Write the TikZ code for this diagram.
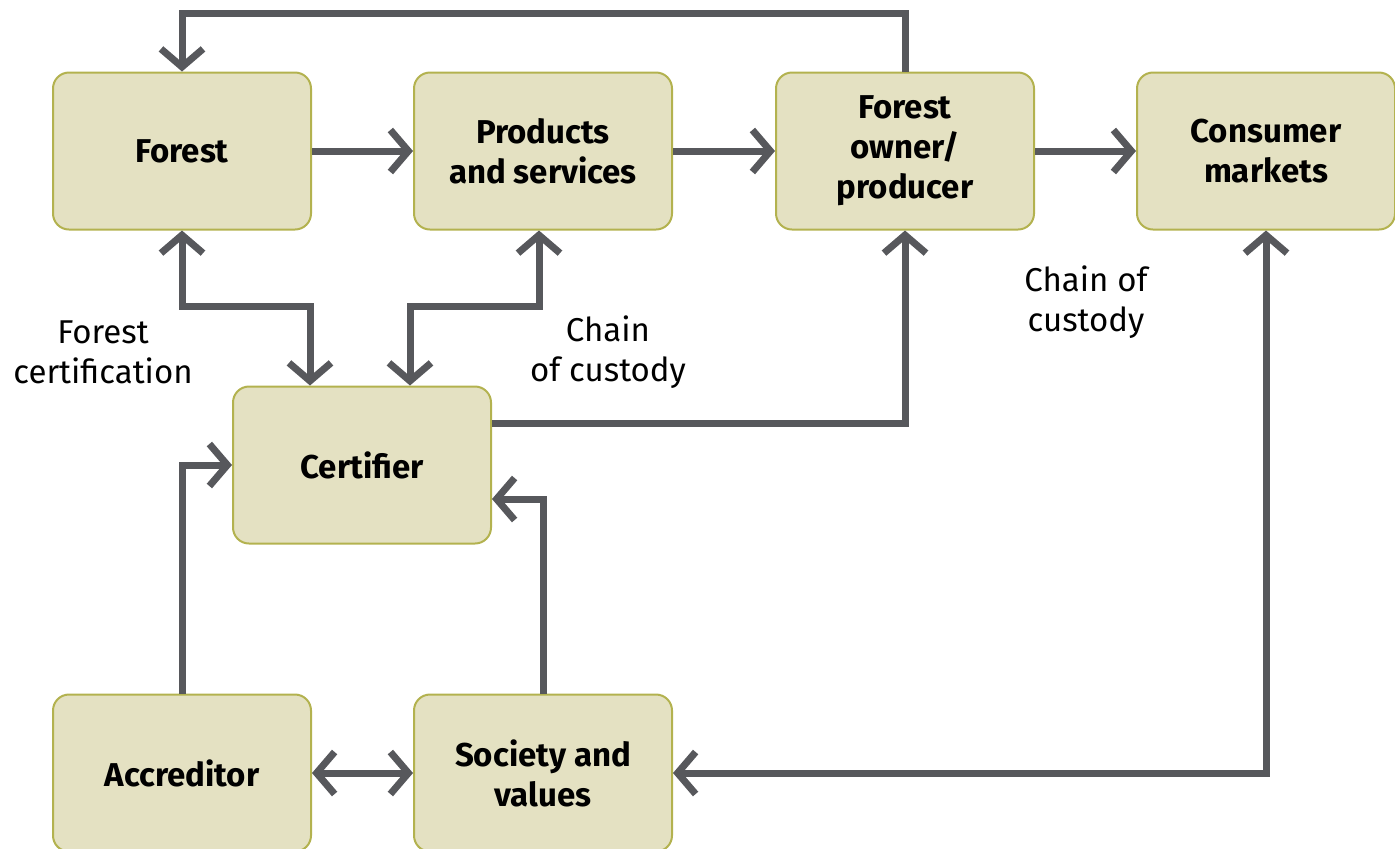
\documentclass[tikz,border=0pt]{standalone}
\usepackage{fontspec}
\setmainfont{Fira Sans}
\usetikzlibrary{arrows.meta, positioning, calc}

\definecolor{boxfill}{HTML}{E4E1C2}
\definecolor{boxline}{HTML}{B3B24F}
\definecolor{arrgray}{HTML}{57585C}

\tikzset{
  block/.style={draw=boxline, fill=boxfill, line width=1pt, rounded corners=8pt,
    minimum width=129pt, minimum height=78.5pt, align=center,
    font=\fontsize{16.5}{20}\selectfont\bfseries},
  flow/.style={draw=arrgray, line width=3.5pt,
    -{Straight Barb[length=9pt, width=21pt, line width=3.5pt]}},
  twoway/.style={flow, {Straight Barb[length=9pt, width=21pt, line width=3.5pt]}-{Straight Barb[length=9pt, width=21pt, line width=3.5pt]}},
  note/.style={align=center, font=\fontsize{16.5}{20}\selectfont}
}

\begin{document}
\begin{tikzpicture}[x=0.5pt, y=-0.5pt]
    \clip (0,0) rectangle (1395,848);
    \useasboundingbox (0,0) rectangle (1395,848);

    % Boxes
    \node[block] (forest) at (182,151) {Forest};
    \node[block] (products) at (543,151) {Products\\and services};
    \node[block] (owner) at (905,151) {Forest\\owner/\\producer};
    \node[block] (consumer) at (1266,151) {Consumer\\markets};
    \node[block] (certifier) at (362,465) {Certifier};
    \node[block] (accreditor) at (182,773) {Accreditor};
    \node[block] (society) at (543,773) {Society and\\values};

    % Top row
    \draw[flow] (forest) -- (products);
    \draw[flow] (products) -- (owner);
    \draw[flow] (owner) -- (consumer);
    \draw[flow] (owner.north) -- ++(0,-58) -| (forest.north);

    % Certification
    \draw[twoway] (forest.south) -- ++(0,76) -| ([xshift=-26pt]certifier.north);
    \draw[twoway] ([xshift=-2pt]products.south) -- ++(0,76) -| ([xshift=24pt]certifier.north);
    \draw[flow] ([yshift=21pt]certifier.east) -| (owner.south);

    % Bottom row
    \draw[flow] (accreditor.north) |- (certifier.west);
    \draw[flow] (society.north) |- ([yshift=-17pt]certifier.east);
    \draw[twoway] (accreditor) -- (society);
    \draw[twoway] (consumer.south) |- (society.east);

    % Labels
    \node[note] (lforest) at (103,352) {Forest\\certification};
    \node[note] (lchain) at (608,352) {Chain\\of custody};
    \node[note] (lchainb) at (1086,302) {Chain of\\custody};
\end{tikzpicture}
\end{document}
